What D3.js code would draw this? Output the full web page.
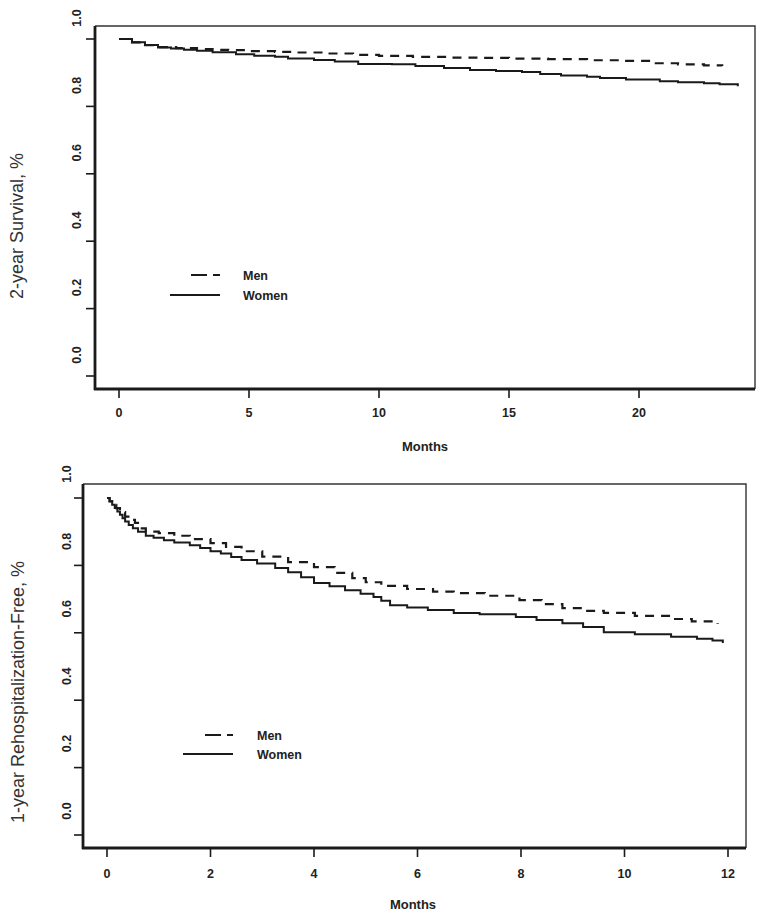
<!DOCTYPE html>
<html>
<head>
<meta charset="utf-8">
<script src="https://cdn.jsdelivr.net/npm/d3@7"></script>
<style>
  html, body { margin: 0; padding: 0; background: #fff; }
  svg { display: block; font-family: "Liberation Sans", Arial, sans-serif; }
</style>
</head>
<body>
<svg id="chart" width="762" height="918"></svg>
<script>
// ---------- Data ----------
// Panel A: 2-year survival
const survTicksX = [0, 5, 10, 15, 20];
const yTicks = [0.0, 0.2, 0.4, 0.6, 0.8, 1.0];
const survMenTime  = [0, 0.5, 1.0, 1.5, 2.2, 3.0, 3.6, 4.2, 5.0, 6.0, 6.8, 8.0, 9.0, 10.0, 11.3, 12.8, 14.0, 15.0, 16.5, 18.0, 19.3, 20.5, 21.5, 22.5, 23.2];
const survMenValue = [1.0, 0.99, 0.982, 0.976, 0.973, 0.970, 0.968, 0.967, 0.964, 0.962, 0.960, 0.957, 0.953, 0.950, 0.947, 0.945, 0.944, 0.942, 0.940, 0.937, 0.935, 0.928, 0.925, 0.922, 0.920];
const survWomenTime  = [0, 0.5, 1.0, 1.5, 2.0, 2.5, 3.0, 3.6, 4.5, 5.2, 6.0, 6.5, 7.5, 8.3, 9.2, 10.5, 11.4, 12.5, 13.5, 14.5, 15.5, 16.2, 17.0, 18.0, 18.5, 19.5, 20.8, 21.5, 22.5, 23.1, 23.8];
const survWomenValue = [1.0, 0.99, 0.982, 0.975, 0.972, 0.968, 0.965, 0.961, 0.955, 0.950, 0.947, 0.942, 0.938, 0.933, 0.926, 0.925, 0.920, 0.914, 0.908, 0.905, 0.902, 0.896, 0.892, 0.888, 0.884, 0.880, 0.875, 0.872, 0.869, 0.866, 0.860];

// Panel B: 1-year rehospitalization-free
const rehospTicksX = [0, 2, 4, 6, 8, 10, 12];
const rehospMenTime  = [0, 0.05, 0.1, 0.18, 0.25, 0.35, 0.45, 0.54, 0.65, 0.75, 1.0, 1.3, 1.6, 2.0, 2.3, 2.6, 3.0, 3.5, 4.0, 4.4, 4.74, 5.0, 5.3, 5.8, 6.3, 6.7, 7.3, 7.97, 8.4, 8.8, 9.2, 9.6, 10.2, 10.9, 11.3, 11.8];
const rehospMenValue = [1.0, 0.99, 0.98, 0.97, 0.958, 0.945, 0.935, 0.926, 0.91, 0.90, 0.896, 0.888, 0.878, 0.866, 0.855, 0.842, 0.826, 0.81, 0.795, 0.778, 0.762, 0.75, 0.739, 0.73, 0.722, 0.718, 0.71, 0.697, 0.685, 0.673, 0.665, 0.659, 0.65, 0.641, 0.634, 0.626];
const rehospWomenTime  = [0, 0.05, 0.1, 0.15, 0.2, 0.25, 0.3, 0.35, 0.42, 0.5, 0.6, 0.75, 0.9, 1.1, 1.3, 1.6, 1.8, 2.0, 2.2, 2.4, 2.6, 2.9, 3.25, 3.5, 3.75, 4.0, 4.3, 4.6, 4.9, 5.15, 5.3, 5.47, 5.8, 6.2, 6.7, 7.2, 7.9, 8.3, 8.8, 9.2, 9.6, 10.2, 10.9, 11.4, 11.7, 11.9];
const rehospWomenValue = [1.0, 0.99, 0.98, 0.97, 0.96, 0.95, 0.94, 0.93, 0.92, 0.91, 0.90, 0.888, 0.882, 0.875, 0.868, 0.86, 0.852, 0.842, 0.835, 0.825, 0.816, 0.806, 0.792, 0.78, 0.765, 0.748, 0.738, 0.726, 0.716, 0.706, 0.695, 0.682, 0.675, 0.668, 0.659, 0.655, 0.647, 0.638, 0.628, 0.617, 0.602, 0.596, 0.588, 0.582, 0.577, 0.570];

const seriesNames = ["Men", "Women"];

// ---------- Drawing ----------
const svg = d3.select("#chart");
const ink = "#1a1a1a";

function panel(cfg) {
  const g = svg.append("g");
  const x = d3.scaleLinear().domain(cfg.xDomain).range(cfg.xRange);
  const y = d3.scaleLinear().domain([0, 1]).range([cfg.y0, cfg.y1]);
  const b = cfg.box;

  // top and right frame (thin)
  g.append("path")
    .attr("d", `M${b.l},${b.t}H${b.r}V${b.b}`)
    .attr("fill", "none").attr("stroke", "#333").attr("stroke-width", 1.4);

  // left and bottom axis lines
  g.append("line").attr("x1", b.l).attr("x2", b.l).attr("y1", b.t).attr("y2", b.b + 1)
    .attr("stroke", ink).attr("stroke-width", 2.8);
  g.append("line").attr("x1", b.l - 1).attr("x2", b.r).attr("y1", b.b).attr("y2", b.b)
    .attr("stroke", ink).attr("stroke-width", 2.8);

  g.selectAll(".yt").data(yTicks).enter().append("line")
    .attr("x1", b.l - 9).attr("x2", b.l)
    .attr("y1", d => y(d)).attr("y2", d => y(d))
    .attr("stroke", ink).attr("stroke-width", 1.6);
  // tick labels (shifted up, as in the reference)
  g.selectAll(".yl").data(yTicks).enter().append("text")
    .attr("transform", d => `translate(${cfg.yLabelX},${y(d) - cfg.yLabelShift}) rotate(-90)`)
    .attr("text-anchor", "middle").attr("dominant-baseline", "central")
    .attr("font-size", 12.5).attr("font-weight", "bold").attr("fill", "#222")
    .text(d => d.toFixed(1));

  g.selectAll(".xt").data(cfg.xTicks).enter().append("line")
    .attr("x1", d => x(d)).attr("x2", d => x(d))
    .attr("y1", b.b).attr("y2", b.b + 9)
    .attr("stroke", ink).attr("stroke-width", 1.6);
  g.selectAll(".xl").data(cfg.xTicks).enter().append("text")
    .attr("x", d => x(d)).attr("y", cfg.xLabelY)
    .attr("text-anchor", "middle").attr("dominant-baseline", "central")
    .attr("font-size", 12.5).attr("font-weight", "bold").attr("fill", "#222")
    .text(d => d);

  g.append("text").attr("x", cfg.monthsX).attr("y", cfg.monthsY)
    .attr("text-anchor", "middle").attr("dominant-baseline", "central")
    .attr("font-size", 13).attr("font-weight", "bold").attr("fill", "#222")
    .text("Months");

  g.append("text")
    .attr("transform", `translate(${cfg.titleX},${cfg.titleY}) rotate(-90)`)
    .attr("text-anchor", "middle").attr("dominant-baseline", "central")
    .attr("font-size", 18).attr("fill", "#333")
    .text(cfg.title);

  const line = d3.line().x(d => x(d[0])).y(d => y(d[1])).curve(d3.curveStepAfter);
  const menData = d3.zip(cfg.menTime, cfg.menValue);
  const womenData = d3.zip(cfg.womenTime, cfg.womenValue);

  g.append("path").attr("d", line(womenData))
    .attr("fill", "none").attr("stroke", ink).attr("stroke-width", 2);
  g.append("path").attr("d", line(menData))
    .attr("fill", "none").attr("stroke", ink).attr("stroke-width", 2.2)
    .attr("stroke-dasharray", "9,7");

  // legend
  const L = cfg.legend;
  g.append("line").attr("x1", L.menX1).attr("x2", L.lineX2)
    .attr("y1", L.menY).attr("y2", L.menY)
    .attr("stroke", ink).attr("stroke-width", 2.2).attr("stroke-dasharray", "16,6");
  g.append("line").attr("x1", L.womenX1).attr("x2", L.lineX2)
    .attr("y1", L.womenY).attr("y2", L.womenY)
    .attr("stroke", ink).attr("stroke-width", 2.2);
  g.selectAll(".lg").data(seriesNames).enter().append("text")
    .attr("x", L.textX).attr("y", (d, i) => i === 0 ? L.menY + 1 : L.womenY + 1)
    .attr("dominant-baseline", "central")
    .attr("font-size", 12.5).attr("font-weight", "bold").attr("fill", "#222")
    .text(d => d);
}

panel({
  xDomain: [0, 5], xRange: [119, 249],
  y0: 376, y1: 39,
  box: { l: 95, t: 26, r: 755, b: 389 },
  xTicks: survTicksX,
  yLabelX: 77, yLabelShift: 21,
  xLabelY: 413, monthsX: 425, monthsY: 446,
  titleX: 17, titleY: 226,
  title: "2-year Survival, %",
  menTime: survMenTime, menValue: survMenValue,
  womenTime: survWomenTime, womenValue: survWomenValue,
  legend: { menX1: 191, womenX1: 170, lineX2: 220, menY: 275, womenY: 295, textX: 243 }
});

panel({
  xDomain: [0, 2], xRange: [107, 210.5],
  y0: 835, y1: 498,
  box: { l: 83, t: 484, r: 746, b: 848 },
  xTicks: rehospTicksX,
  yLabelX: 67, yLabelShift: 24,
  xLabelY: 874, monthsX: 413, monthsY: 904,
  titleX: 18, titleY: 692,
  title: "1-year Rehospitalization-Free, %",
  menTime: rehospMenTime, menValue: rehospMenValue,
  womenTime: rehospWomenTime, womenValue: rehospWomenValue,
  legend: { menX1: 205, womenX1: 183, lineX2: 233, menY: 735, womenY: 754, textX: 257 }
});
</script>
</body>
</html>
